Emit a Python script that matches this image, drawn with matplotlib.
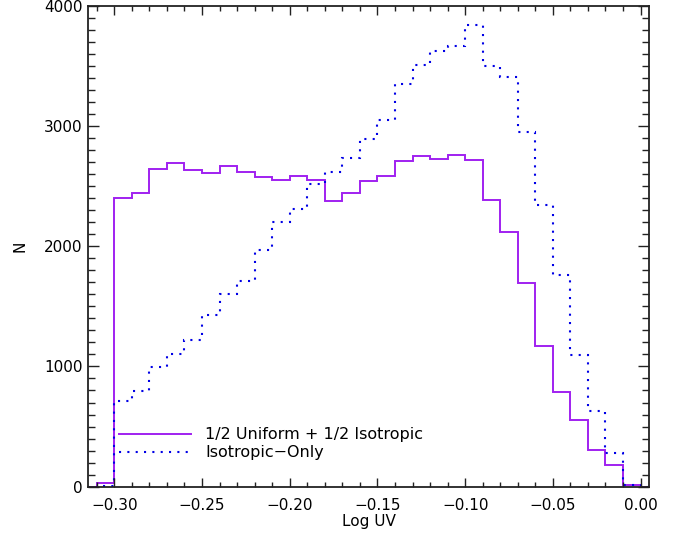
import numpy as np
import matplotlib
matplotlib.use("Agg")
import matplotlib.pyplot as plt

# bin edges in Log UV, bins of 0.01 from -0.31 to 0.00
bin_edges = [-0.31, -0.30, -0.29, -0.28, -0.27, -0.26, -0.25, -0.24, -0.23, -0.22,
             -0.21, -0.20, -0.19, -0.18, -0.17, -0.16, -0.15, -0.14, -0.13, -0.12,
             -0.11, -0.10, -0.09, -0.08, -0.07, -0.06, -0.05, -0.04, -0.03, -0.02,
             -0.01, 0.00]

uniform_iso = [33, 2403, 2442, 2638, 2696, 2635, 2605, 2668, 2621, 2577,
               2553, 2580, 2547, 2378, 2444, 2541, 2585, 2712, 2751, 2723,
               2759, 2717, 2386, 2115, 1690, 1170, 787, 552, 307, 182, 17]

iso_only = [8, 710, 795, 999, 1102, 1224, 1432, 1602, 1713, 1972,
            2204, 2312, 2519, 2618, 2734, 2891, 3049, 3345, 3508, 3624,
            3662, 3836, 3496, 3405, 2950, 2345, 1758, 1096, 630, 277, 12]

series_labels = ["1/2 Uniform + 1/2 Isotropic", "Isotropic\u2212Only"]

plt.rcParams["font.family"] = "DejaVu Sans"
plt.rcParams["font.size"] = 11

fig = plt.figure(figsize=(6.75, 5.35), dpi=100)
ax = fig.add_axes([0.1304, 0.0903, 0.8316, 0.899])

# pad with zero bins so the step line runs along the bottom at both ends
edges = [bin_edges[0] - 0.01] + bin_edges + [bin_edges[-1] + 0.01]
purple = "#a020f0"
blue = "#0000e6"
ax.stairs([0] + uniform_iso + [0], edges, color=purple, lw=1.4, label=series_labels[0])
ax.stairs([0] + iso_only + [0], edges, color=blue, lw=1.5,
          linestyle=(0, (1, 3)), label=series_labels[1])

ax.set_xlim(-0.315, 0.005)
ax.set_ylim(0, 4000)
ax.set_xticks([-0.30, -0.25, -0.20, -0.15, -0.10, -0.05, 0.00])
ax.set_xticks(np.arange(-0.31, 0.001, 0.01), minor=True)
ax.set_yticks([0, 1000, 2000, 3000, 4000])
ax.set_yticks(np.arange(0, 4001, 100), minor=True)
ax.xaxis.set_major_formatter(plt.FuncFormatter(lambda v, p: f"{v:.2f}".replace("-", "\u2212")))

ax.tick_params(which="both", direction="in", top=True, right=True, width=1.0, color="#222222")
ax.tick_params(axis="x", which="major", length=6.5, pad=8)
ax.tick_params(axis="x", which="minor", length=3.6)
ax.tick_params(axis="y", which="major", length=8, pad=4)
ax.tick_params(axis="y", which="minor", length=4.8)
for s in ax.spines.values():
    s.set_linewidth(1.3)
    s.set_color("#222222")

ax.set_xlabel("Log UV", labelpad=1)
ax.set_ylabel("N", labelpad=12)

ax.legend(loc="center left", bbox_to_anchor=(0.055, 0.089), frameon=False,
          fontsize=11.5, borderpad=0, borderaxespad=0,
          handlelength=4.5, handletextpad=0.9, labelspacing=0.2)

fig.savefig("out.png", dpi=100)
